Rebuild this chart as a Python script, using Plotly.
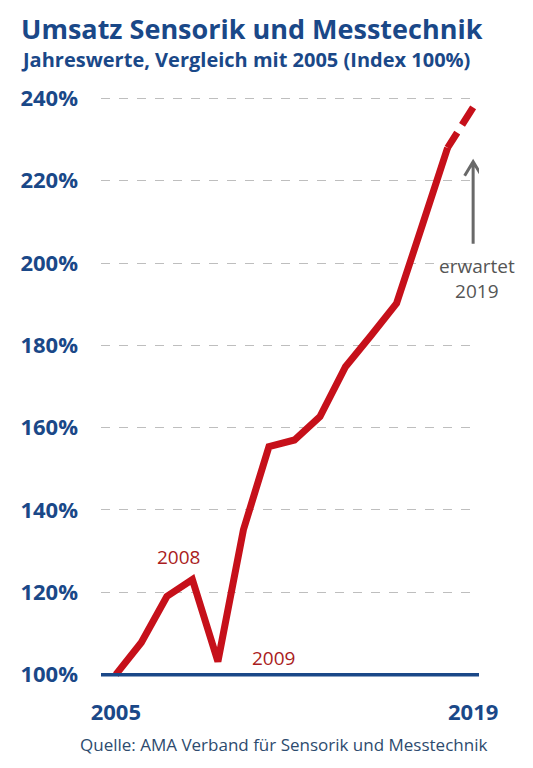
import plotly.graph_objects as go

# Jahreswerte, Index 2005 = 100%
years = [2005, 2006, 2007, 2008, 2009, 2010, 2011, 2012, 2013, 2014, 2015, 2016, 2017, 2018]
index_values = [100.0, 107.8, 119.0, 123.1, 103.2, 135.2, 155.4, 157.0, 162.7, 174.8, 182.4, 190.2, 209.0, 228.0]

# erwarteter Wert 2019 (gestrichelt)
forecast_years = [2018, 2019]
forecast_values = [228.0, 237.8]

y_ticks = [100, 120, 140, 160, 180, 200, 220, 240]
y_tick_labels = ['100%', '120%', '140%', '160%', '180%', '200%', '220%', '240%']
x_ticks = [2005, 2019]
x_tick_labels = ['2005', '2019']

BLUE = 'rgb(26,72,136)'
RED = 'rgb(198,16,26)'
GREY = 'rgb(105,105,105)'

fig = go.Figure()

fig.add_trace(go.Scatter(
    x=years, y=index_values,
    mode='lines',
    line=dict(color=RED, width=7),
    hoverinfo='skip'))

fig.add_trace(go.Scatter(
    x=forecast_years, y=forecast_values,
    mode='lines',
    line=dict(color=RED, width=7, dash='18px,9px,40px'),
    hoverinfo='skip'))

# Basislinie 100%
fig.add_shape(type='line', xref='x domain', yref='y',
              x0=0, x1=1, y0=100, y1=100,
              line=dict(color=BLUE, width=3.5))

# Pfeil "erwartet 2019" (offene Spitze, in Pixeln am Datenpunkt verankert)
fig.add_shape(type='path', xref='x', yref='y',
              xsizemode='pixel', ysizemode='pixel',
              xanchor=2019.0, yanchor=224.6,
              path='M 0,-82 L 0,-1 M -8.5,-14 L 0,0 L 8.5,-14',
              line=dict(color=GREY, width=3))

font_open = 'Open Sans, DejaVu Sans, sans-serif'

annotations = [
    dict(text='Umsatz Sensorik und Messtechnik', xref='paper', yref='paper',
         x=-0.216, y=1.1295, xanchor='left', yanchor='top', showarrow=False,
         font=dict(family=font_open, size=27, color=BLUE, weight='bold')),
    dict(text='Jahreswerte, Vergleich mit 2005 (Index 100%)', xref='paper', yref='paper',
         x=-0.216, y=1.0433, xanchor='left', yanchor='middle', showarrow=False,
         font=dict(family=font_open, size=20, color=BLUE, weight='bold')),
    dict(text='Quelle: AMA Verband für Sensorik und Messtechnik', xref='paper', yref='paper',
         x=0.482, y=-0.0965, xanchor='center', yanchor='middle', showarrow=False,
         font=dict(family=font_open, size=17, color='rgb(45,75,110)')),
    dict(text='2008', x=2007.44, y=128.7, showarrow=False,
         font=dict(family=font_open, size=19, color='rgb(170,28,34)')),
    dict(text='2009', x=2011.17, y=104.1, showarrow=False,
         font=dict(family=font_open, size=19, color='rgb(170,28,34)')),
    dict(text='erwartet<br>2019', x=2019.15, y=196.3, showarrow=False,
         font=dict(family=font_open, size=19, color='rgb(85,85,85)')),
]

# Seite hat 8px Rand im Browser -> Figur entsprechend kleiner
fig.update_layout(
    width=525, height=760,
    margin=dict(l=87, r=54, t=78, b=81),
    paper_bgcolor='white', plot_bgcolor='white',
    showlegend=False,
    annotations=annotations,
    font=dict(family=font_open),
)

fig.update_xaxes(
    range=[2004.42, 2019.23],
    tickvals=x_ticks, ticktext=x_tick_labels,
    showgrid=False, zeroline=False, showline=False, ticks='',
    ticklabelstandoff=10,
    tickfont=dict(family=font_open, size=22, color=BLUE, weight='bold'))

fig.update_yaxes(
    range=[97, 243],
    tickvals=y_ticks, ticktext=y_tick_labels,
    showgrid=True, gridcolor='rgb(190,190,190)', gridwidth=1, griddash='dash',
    zeroline=False, showline=False, ticks='',
    ticklabelstandoff=22,
    tickfont=dict(family=font_open, size=22, color=BLUE, weight='bold'))

fig.write_html('out.html')
